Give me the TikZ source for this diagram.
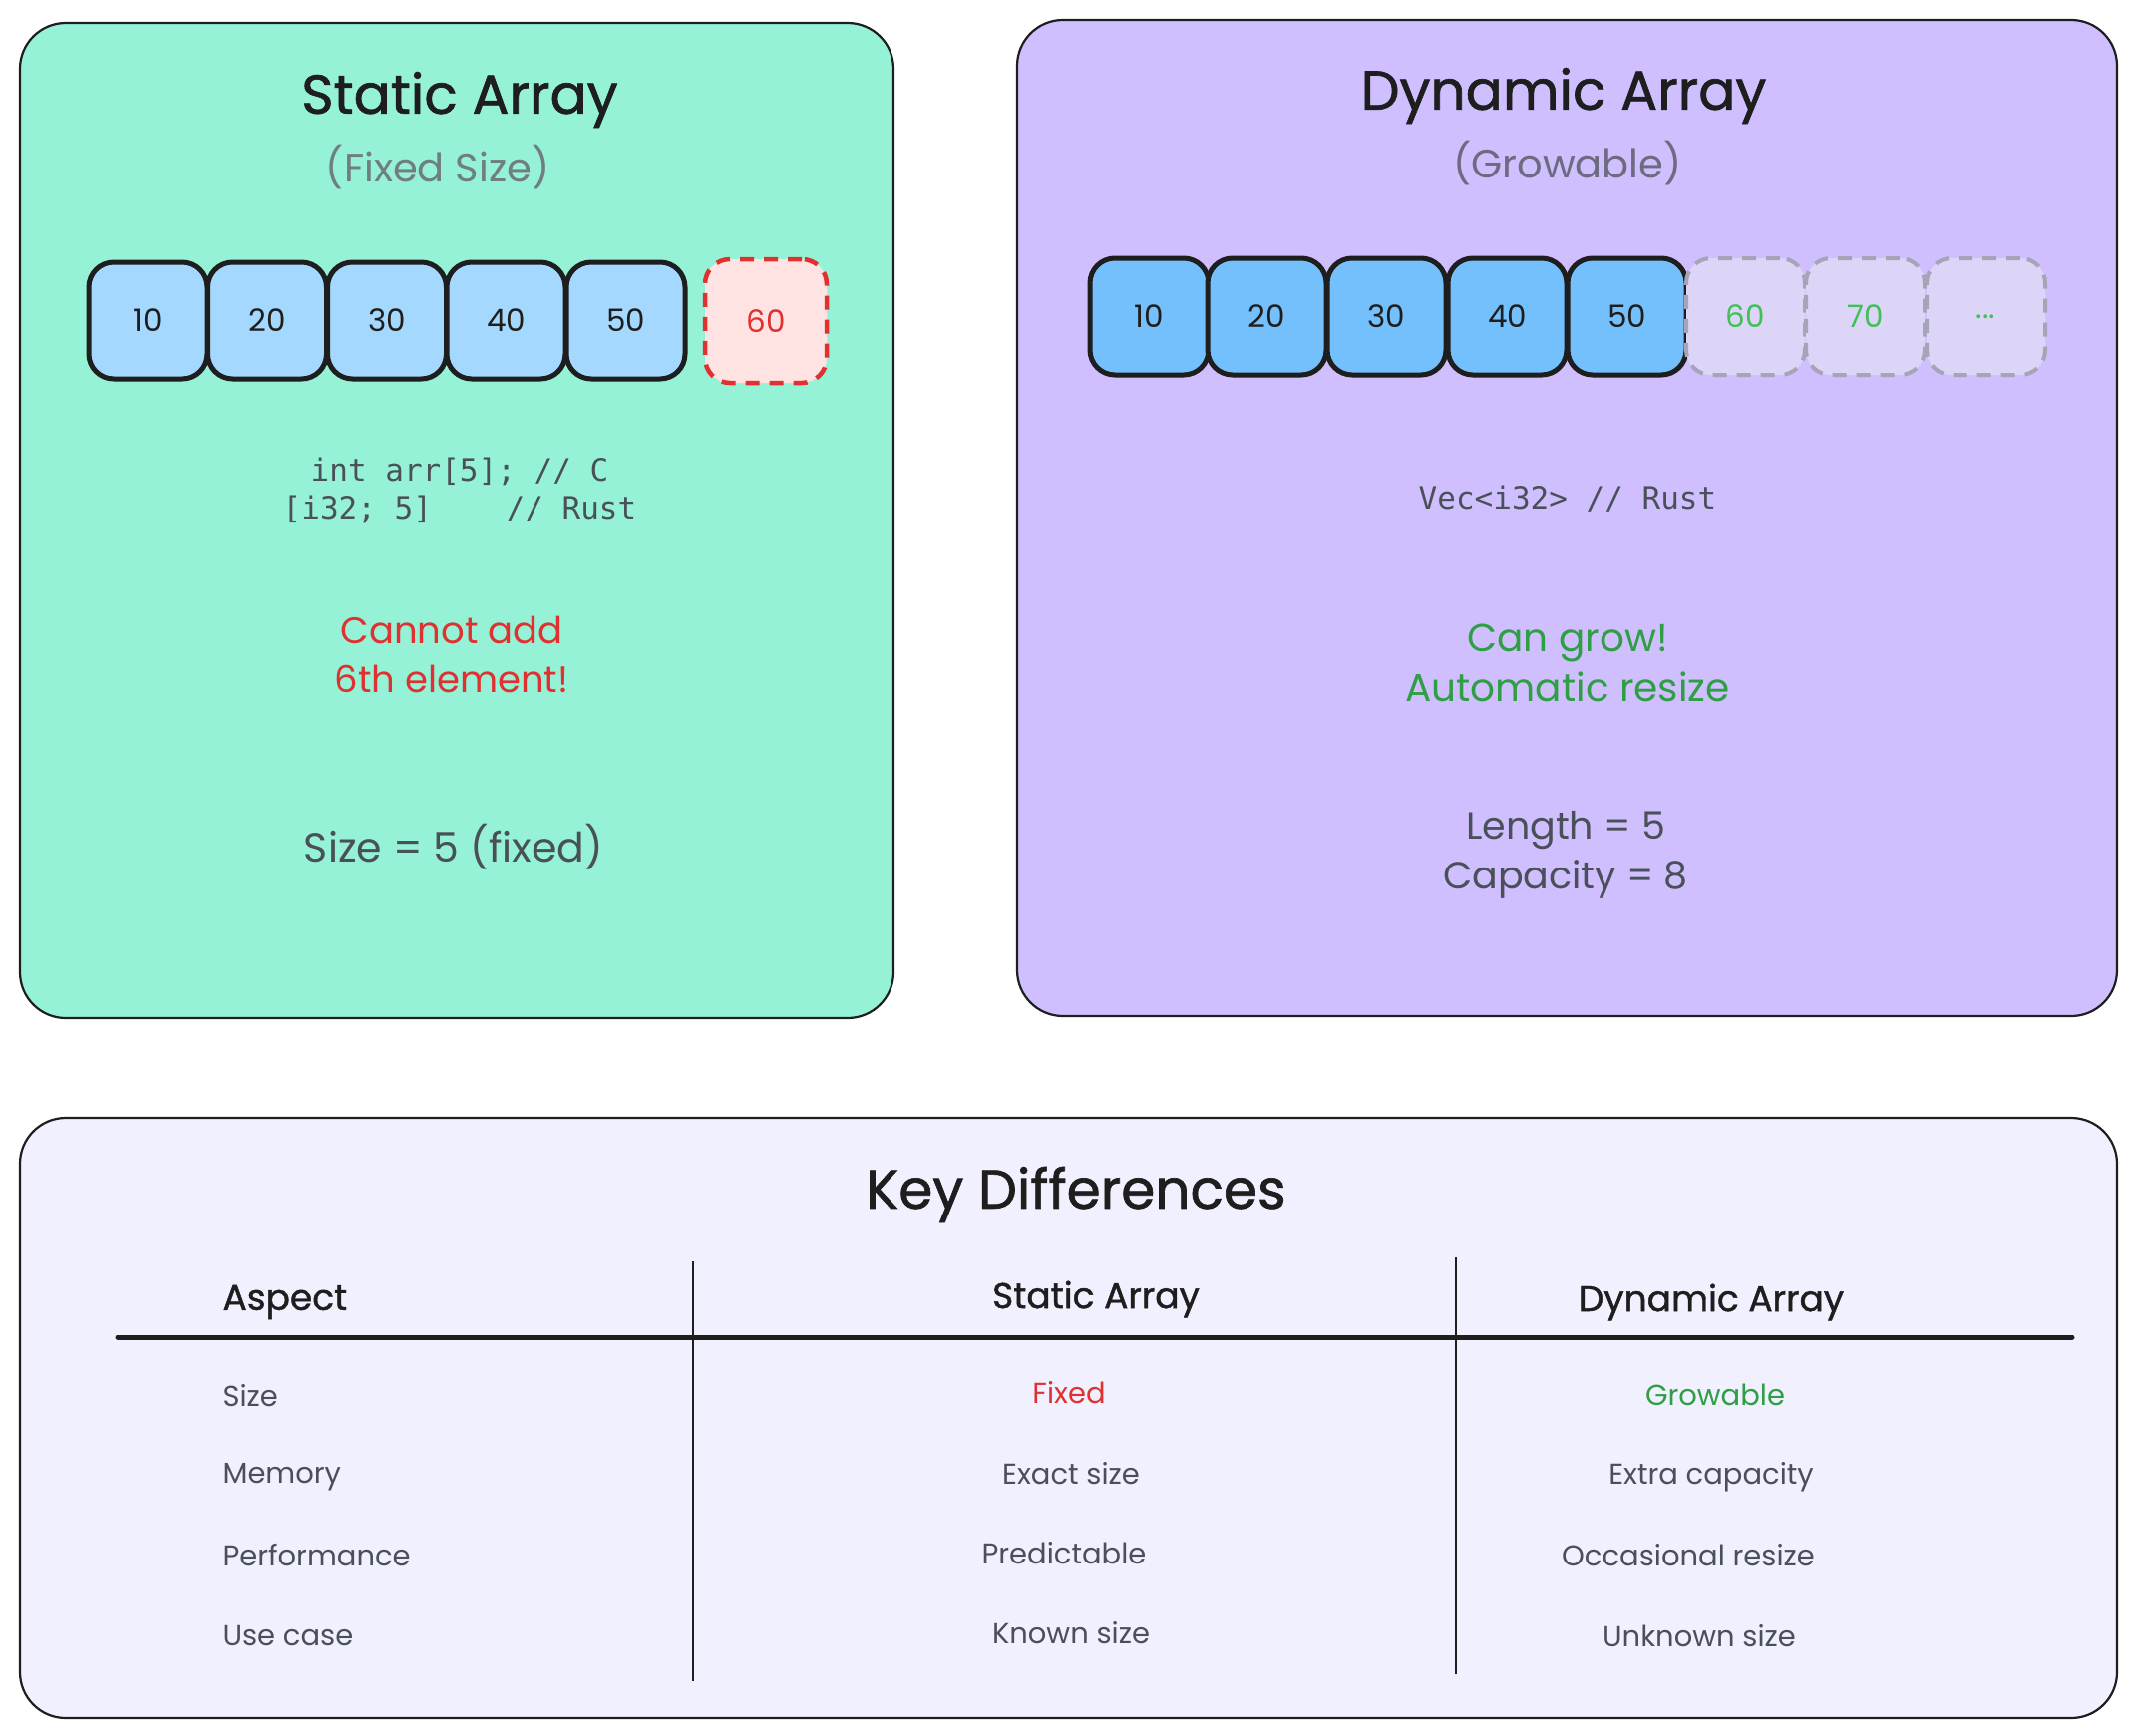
\documentclass[tikz,border=0pt]{standalone}
\usepackage{fontspec}
\setmainfont{Poppins}
\newfontfamily\titlefont[FakeBold=1.2]{Poppins}
\newfontfamily\codefont{DejaVu Sans Mono}
\definecolor{ink}{HTML}{1E1E1E}
\definecolor{txt}{HTML}{495057}
\definecolor{subg}{HTML}{6F7F80}
\definecolor{subp}{HTML}{6E6A80}
\definecolor{tealbg}{HTML}{96F2D7}
\definecolor{purplebg}{HTML}{D0BFFF}
\definecolor{lavbg}{HTML}{F1F0FF}
\definecolor{cellA}{HTML}{A5D8FF}
\definecolor{cellB}{HTML}{74C0FC}
\definecolor{redfill}{HTML}{FFE3E3}
\definecolor{redc}{HTML}{E03131}
\definecolor{greenc}{HTML}{2F9E44}
\definecolor{greenn}{HTML}{40C057}
\definecolor{ghost}{HTML}{DDD5F7}
\definecolor{ghostline}{HTML}{A8A4B8}
\tikzset{
  panel/.style={draw=ink, line width=2.2, rounded corners=46, inner sep=0},
  cellbox/.style={draw=ink, line width=5, rounded corners=25, minimum width=119, minimum height=117, inner sep=0,
    font=\fontsize{31}{36}\selectfont, text=ink},
  redbox/.style={cellbox, draw=redc, fill=redfill, text=redc, dash pattern=on 14 off 10, line width=4.5, minimum width=122, minimum height=124},
  ghostbox/.style={cellbox, draw=ghostline, fill=ghost, text=greenn, dash pattern=on 14 off 10, line width=4},
  title/.style={font=\titlefont\fontsize{55}{66}\selectfont, text=ink},
  sub/.style={font=\fontsize{40}{48}\selectfont},
  code/.style={font=\codefont\fontsize{31}{38}\selectfont, text=txt, align=center},
  note/.style={font=\fontsize{38}{50}\selectfont, align=center},
  head/.style={font=\titlefont\fontsize{36}{44}\selectfont, text=ink},
  cellt/.style={font=\fontsize{29}{36}\selectfont, text=txt},
}
\begin{document}
\begin{tikzpicture}[x=1pt,y=-1pt]
\useasboundingbox (0,0) rectangle (2144,1740);
% panels
\node[panel, fill=tealbg, minimum width=876, minimum height=998] (pstatic) at (458,522) {};
\node[panel, fill=purplebg, minimum width=1103, minimum height=999] (pdyn) at (1571.5,519.5) {};
\node[panel, fill=lavbg, minimum width=2103, minimum height=602] (pkey) at (1071.5,1422) {};

% static array
\node[title] (stitle) at (461,100) {Static Array};
\node[sub, text=subg] (ssub) at (439,168) {(Fixed Size)};
\node[cellbox, fill=cellA] (s1) at (148.5,321.5) {10};
\node[cellbox, fill=cellA] (s2) at (268,321.5) {20};
\node[cellbox, fill=cellA] (s3) at (388,321.5) {30};
\node[cellbox, fill=cellA] (s4) at (507.5,321.5) {40};
\node[cellbox, fill=cellA] (s5) at (627.5,321.5) {50};
\node[redbox] (s6) at (768,322) {60};
\node[code] (scode) at (461,492) {int arr[5]; // C\\{[}i32; 5{]}\ \ \ \ // Rust};
\node[note, text=redc, font=\fontsize{37}{49}\selectfont] (snote) at (453,656) {Cannot add\\6th element!};
\node[note, text=txt, font=\fontsize{41}{50}\selectfont] (ssize) at (455,849) {Size = 5 (fixed)};

% dynamic array
\node[title] (dtitle) at (1568,96) {Dynamic Array};
\node[sub, text=subp] (dsub) at (1572,164) {(Growable)};
\node[cellbox, fill=cellB] (d1) at (1152.5,317.5) {10};
\node[cellbox, fill=cellB] (d2) at (1270.5,317.5) {20};
\node[cellbox, fill=cellB] (d3) at (1390.5,317.5) {30};
\node[cellbox, fill=cellB] (d4) at (1511.5,317.5) {40};
\node[cellbox, fill=cellB] (d5) at (1631.5,317.5) {50};
\node[ghostbox] (d6) at (1750.5,317.5) {60};
\node[ghostbox] (d7) at (1870.5,317.5) {70};
\node[ghostbox] (d8) at (1991.5,317.5) {...};
\node[code] (dcode) at (1572,500) {Vec<i32> // Rust};
\node[note, text=greenc, font=\fontsize{39}{50}\selectfont] (dnote) at (1572,665) {Can grow!\\Automatic resize};
\node[note, text=txt] (dsize) at (1570,857) {Length = 5\\Capacity = 8};

% key differences
\node[title] (ktitle) at (1079,1198) {Key Differences};
\node[head, anchor=west] (h1) at (220,1306) {Aspect};
\node[head] (h2) at (1099,1303) {Static Array};
\node[head] (h3) at (1716,1306) {Dynamic Array};
\coordinate (hl) at (118,1341);
\coordinate (hr) at (2078,1341);
\draw[ink, line width=5, line cap=round] (hl) -- (hr);
\coordinate (v1t) at (695,1265);
\coordinate (v1b) at (695,1686);
\coordinate (v2t) at (1460,1261);
\coordinate (v2b) at (1460,1679);
\draw[ink, line width=1.8] (v1t) -- (v1b);
\draw[ink, line width=1.8] (v2t) -- (v2b);

\node[cellt, anchor=west] (r1a) at (220,1400) {Size};
\node[cellt, anchor=west] (r2a) at (220,1481) {Memory};
\node[cellt, anchor=west] (r3a) at (220,1560) {Performance};
\node[cellt, anchor=west] (r4a) at (220,1641) {Use case};

\node[cellt, text=redc] (r1b) at (1072,1397) {Fixed};
\node[cellt] (r2b) at (1074,1478) {Exact size};
\node[cellt] (r3b) at (1067,1558) {Predictable};
\node[cellt] (r4b) at (1074,1638) {Known size};

\node[cellt, text=greenc] (r1c) at (1720,1399) {Growable};
\node[cellt] (r2c) at (1716,1481) {Extra capacity};
\node[cellt] (r3c) at (1693,1560) {Occasional resize};
\node[cellt] (r4c) at (1704,1641) {Unknown size};
\end{tikzpicture}
\end{document}
